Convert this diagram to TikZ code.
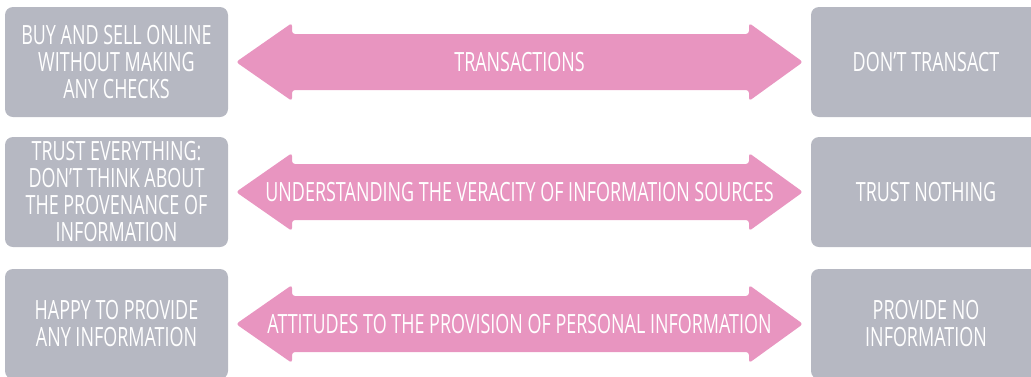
\documentclass[tikz,border=0pt]{standalone}
\usepackage{fontspec}
\setmainfont[FakeStretch=0.677]{Open Sans}
\definecolor{boxgray}{HTML}{B6B8C2}
\definecolor{arrowpink}{HTML}{E895C0}
\tikzset{
  sidebox/.style={fill=boxgray, rounded corners=8pt, draw=none, minimum width=226pt, minimum height=110pt, inner sep=0pt,
    text=white, align=center, font=\fontsize{26.5}{27}\selectfont},
  arrowshape/.style={fill=arrowpink, rounded corners=3pt},
  arrowtext/.style={text=white, font=\fontsize{26.5}{27}\selectfont, inner sep=0pt}
}
\begin{document}
\begin{tikzpicture}[x=1pt,y=-1pt]
\useasboundingbox (0,0) rectangle (1031,376);
\clip (0,0) rectangle (1031,376);
% left boxes
\node[sidebox, minimum width=223pt] (l1) at (116.5,62) {BUY AND SELL ONLINE\\WITHOUT MAKING\\ANY CHECKS};
\node[sidebox, minimum width=223pt] (l2) at (116.5,192) {TRUST EVERYTHING:\\DON’T THINK ABOUT\\THE PROVENANCE OF\\INFORMATION};
\node[sidebox, minimum width=223pt] (l3) at (116.5,324) {HAPPY TO PROVIDE\\ANY INFORMATION};
% right boxes
\node[sidebox, minimum width=230pt] (r1) at (926,62) {DON’T TRANSACT};
\node[sidebox, minimum width=230pt] (r2) at (926,192) {TRUST NOTHING};
\node[sidebox, minimum width=230pt] (r3) at (926,324) {PROVIDE NO\\INFORMATION};
% arrows
\foreach \cy in {62,192,324}{
  \fill[arrowshape] (236,\cy) -- (292,{\cy-39}) -- (292,{\cy-28}) -- (749,{\cy-28}) -- (749,{\cy-39})
    -- (803,\cy) -- (749,{\cy+39}) -- (749,{\cy+28}) -- (292,{\cy+28}) -- (292,{\cy+39}) -- cycle;
}
\node[arrowtext] (t1) at (519.5,62) {TRANSACTIONS};
\node[arrowtext] (t2) at (519.5,192) {UNDERSTANDING THE VERACITY OF INFORMATION SOURCES};
\node[arrowtext] (t3) at (519.5,324) {ATTITUDES TO THE PROVISION OF PERSONAL INFORMATION};
\end{tikzpicture}
\end{document}
